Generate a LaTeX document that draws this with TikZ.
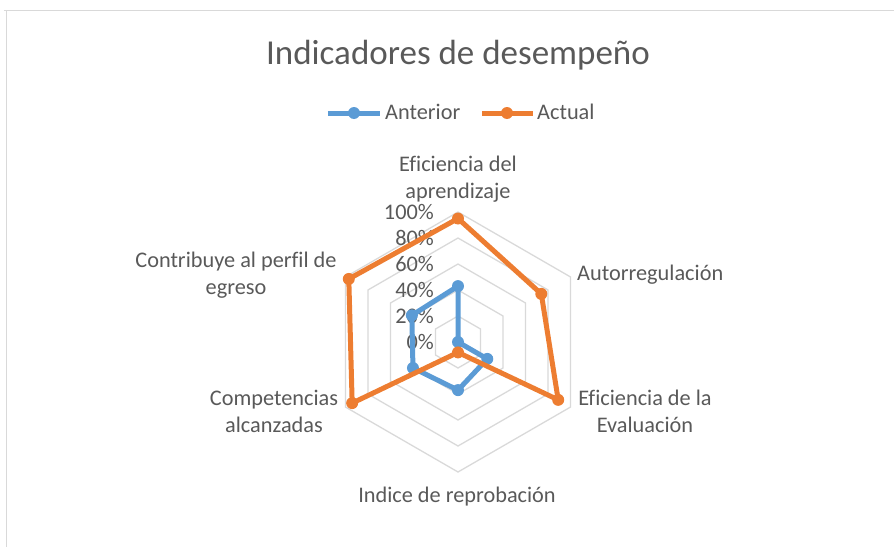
\documentclass[tikz,border=0pt]{standalone}
\usepackage{fontspec}
\setmainfont{Carlito}[Ligatures=NoCommon]

\definecolor{anteriorblue}{HTML}{5B9BD5}
\definecolor{actualorange}{HTML}{ED7D31}
\definecolor{gridgray}{HTML}{D9D9D9}
\definecolor{labelgray}{HTML}{595959}

\tikzset{
  frame/.style={draw=gridgray, line width=1pt},
  ring/.style={draw=gridgray, line width=1.3pt},
  anterior/.style={draw=anteriorblue, line width=5pt, line join=round},
  actual/.style={draw=actualorange, line width=5pt, line join=round},
  charttitle/.style={text=labelgray, font=\fontsize{35}{40}\selectfont, inner sep=0pt},
  axislabel/.style={text=labelgray, font=\fontsize{22.3}{26.5}\selectfont, align=center, inner sep=0pt},
  ticklabel/.style={text=labelgray, font=\fontsize{22.3}{26}\selectfont, anchor=east, inner sep=0pt},
  legendlabel/.style={text=labelgray, font=\fontsize{22.3}{26}\selectfont, anchor=west, inner sep=0pt}
}

\begin{document}
\begin{tikzpicture}[x=1pt, y=1pt]

        \useasboundingbox (-458,-205) rectangle (436,342);

        % chart frame
        \draw[frame] (-454,331) -- (436,331);
        \draw[frame] (-451,331) -- (-451,-205);

        \node[charttitle, anchor=base] (title) at (0,277) {Indicadores de desempeño};

        % legend
        \coordinate (antA) at (-130,229); \coordinate (antB) at (-78,229);
        \coordinate (actA) at (24,229);   \coordinate (actB) at (75,229);
        \draw[anterior] (antA) -- (antB);
        \fill[anteriorblue] (-104,229) circle (6);
        \node[legendlabel] (antlbl) at (-73,230) {Anterior};
        \draw[actual] (actA) -- (actB);
        \fill[actualorange] (49,229) circle (6);
        \node[legendlabel] (actlbl) at (79,230) {Actual};

        % rings
        \draw[ring] (90:26) -- (30:26) -- (-30:26) -- (-90:26) -- (210:26) -- (150:26) -- cycle;
        \draw[ring] (90:52) -- (30:52) -- (-30:52) -- (-90:52) -- (210:52) -- (150:52) -- cycle;
        \draw[ring] (90:78) -- (30:78) -- (-30:78) -- (-90:78) -- (210:78) -- (150:78) -- cycle;
        \draw[ring] (90:104) -- (30:104) -- (-30:104) -- (-90:104) -- (210:104) -- (150:104) -- cycle;
        \draw[ring] (90:130) -- (30:130) -- (-30:130) -- (-90:130) -- (210:130) -- (150:130) -- cycle;

        \node[ticklabel] (t0) at (-24,0) {0\%};
        \node[ticklabel] (t20) at (-24,26) {20\%};
        \node[ticklabel] (t40) at (-24,52) {40\%};
        \node[ticklabel] (t60) at (-24,78) {60\%};
        \node[ticklabel] (t80) at (-24,104) {80\%};
        \node[ticklabel] (t100) at (-24,130) {100\%};

        % Anterior
        \coordinate (ant1) at (90:55.9);
        \coordinate (ant2) at (30:0);
        \coordinate (ant3) at (-30:33.8);
        \coordinate (ant4) at (-90:48.1);
        \coordinate (ant5) at (210:52);
        \coordinate (ant6) at (150:53.3);
        \draw[anterior] (ant1) -- (ant2) -- (ant3) -- (ant4) -- (ant5) -- (ant6) -- cycle;
        \fill[anteriorblue] (ant1) circle (6); \fill[anteriorblue] (ant2) circle (6);
        \fill[anteriorblue] (ant3) circle (6); \fill[anteriorblue] (ant4) circle (6);
        \fill[anteriorblue] (ant5) circle (6); \fill[anteriorblue] (ant6) circle (6);

        % Actual
        \coordinate (act1) at (90:123.5);
        \coordinate (act2) at (30:96.2);
        \coordinate (act3) at (-30:115.7);
        \coordinate (act4) at (-90:10.4);
        \coordinate (act5) at (210:122.2);
        \coordinate (act6) at (150:126.1);
        \draw[actual] (act1) -- (act2) -- (act3) -- (act4) -- (act5) -- (act6) -- cycle;
        \fill[actualorange] (act1) circle (6); \fill[actualorange] (act2) circle (6);
        \fill[actualorange] (act3) circle (6); \fill[actualorange] (act4) circle (6);
        \fill[actualorange] (act5) circle (6); \fill[actualorange] (act6) circle (6);

        % axis labels
        \node[axislabel] (apren) at (0,163) {Eficiencia del\\aprendizaje};
        \node[axislabel, anchor=base west] (autor) at (119,62) {Autorregulación};
        \node[axislabel] (evalu) at (187,-69.5) {Eficiencia de la\\Evaluación};
        \node[axislabel, anchor=base] (indice) at (-1,-160) {Indice de reprobación};
        \node[axislabel] (compe) at (-184,-69.5) {Competencias\\alcanzadas};
        \node[axislabel] (perfil) at (-222,67) {Contribuye al perfil de\\egreso};

      \end{tikzpicture}
\end{document}
